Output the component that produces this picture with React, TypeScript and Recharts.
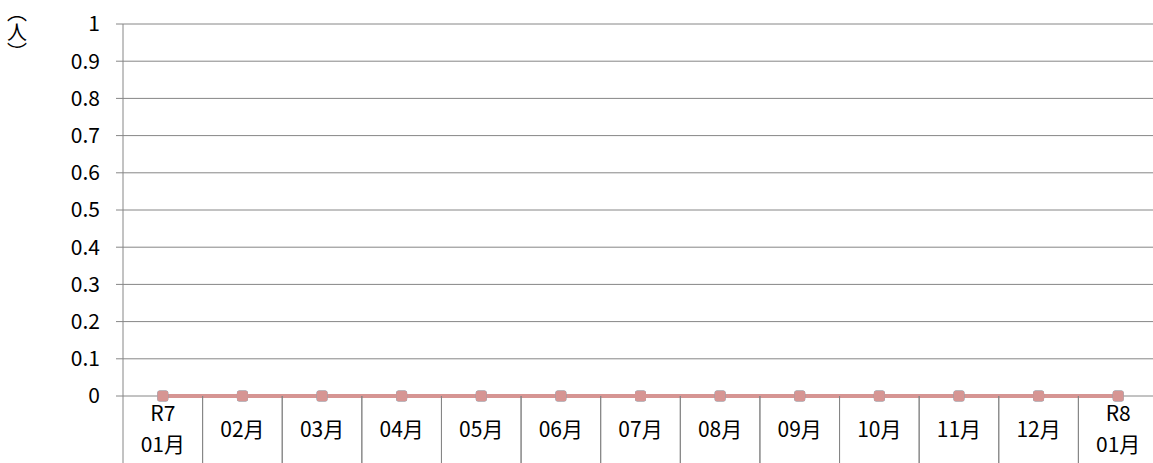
import { LineChart, Line, XAxis, YAxis, CartesianGrid } from 'recharts';

// category labels (two-line ones split with \n)
const months = ['R7\n01月', '02月', '03月', '04月', '05月', '06月', '07月', '08月', '09月', '10月', '11月', '12月', 'R8\n01月'];
const seriesA = [0, 0, 0, 0, 0, 0, 0, 0, 0, 0, 0, 0, 0];
const seriesB = [0, 0, 0, 0, 0, 0, 0, 0, 0, 0, 0, 0, 0];
const yTicks = [0, 0.1, 0.2, 0.3, 0.4, 0.5, 0.6, 0.7, 0.8, 0.9, 1];

const data = months.map((m, i) => ({ month: m, a: seriesA[i], b: seriesB[i] }));

const FONT = '"Noto Sans CJK JP", sans-serif';
const GRID = '#868686';
const HALF = 39.8; // half a category width
const AXIS_Y = 396;

const MonthTick = ({ x, payload }: any) => {
  const parts = String(payload.value).split('\n');
  return (
    <g>
      <line x1={x - HALF} x2={x - HALF} y1={AXIS_Y} y2={AXIS_Y + 70} stroke={GRID} strokeWidth={1} />
      <line x1={x + HALF} x2={x + HALF} y1={AXIS_Y} y2={AXIS_Y + 70} stroke={GRID} strokeWidth={1} />
      {parts.length === 1 ? (
        <text x={x} y={AXIS_Y + 41} textAnchor="middle" fontSize={21} fill="#000" fontFamily={FONT}>
          {parts[0]}
        </text>
      ) : (
        <text x={x} textAnchor="middle" fontSize={21} fill="#000" fontFamily={FONT}>
          <tspan x={x} y={AXIS_Y + 25}>{parts[0]}</tspan>
          <tspan x={x} y={AXIS_Y + 56}>{parts[1]}</tspan>
        </text>
      )}
    </g>
  );
};

const Square = ({ cx, cy, fill }: any) => (
  <rect x={cx - 5.5} y={cy - 5.5} width={11} height={11} rx={2.5} fill={fill} />
);

export default function App() {
  return (
    <div style={{ position: 'absolute', left: 0, top: 0, width: 1153, height: 463, overflow: 'hidden', background: '#fff' }}>
      <LineChart
        width={1165}
        height={463}
        data={data}
        margin={{ top: 24, right: 7, left: 0, bottom: 0 }}
      >
        <CartesianGrid vertical={false} stroke={GRID} strokeWidth={1} />
        <XAxis
          dataKey="month"
          padding={{ left: HALF, right: HALF }}
          axisLine={false}
          tickLine={false}
          tick={<MonthTick />}
          interval={0}
          height={67}
          tickMargin={0}
        />
        <YAxis
          domain={[0, 1]}
          ticks={yTicks}
          width={123}
          stroke={GRID}
          tickSize={7}
          tickMargin={16}
          tick={{ fill: '#000', fontSize: 21, fontFamily: FONT }}
          interval={0}
        />
        <Line
          dataKey="a"
          stroke="#4bacc6"
          strokeWidth={4}
          dot={<Square fill="#4bacc6" />}
          isAnimationActive={false}
        />
        <Line
          dataKey="b"
          stroke="#d69593"
          strokeWidth={4}
          dot={<Square fill="#d69593" />}
          isAnimationActive={false}
        />
        <text
          x={17}
          y={2}
          fontSize={20}
          fontFamily={FONT}
          fill="#000"
          style={{ writingMode: 'vertical-rl' }}
        >
          （人）
        </text>
      </LineChart>
    </div>
  );
}
